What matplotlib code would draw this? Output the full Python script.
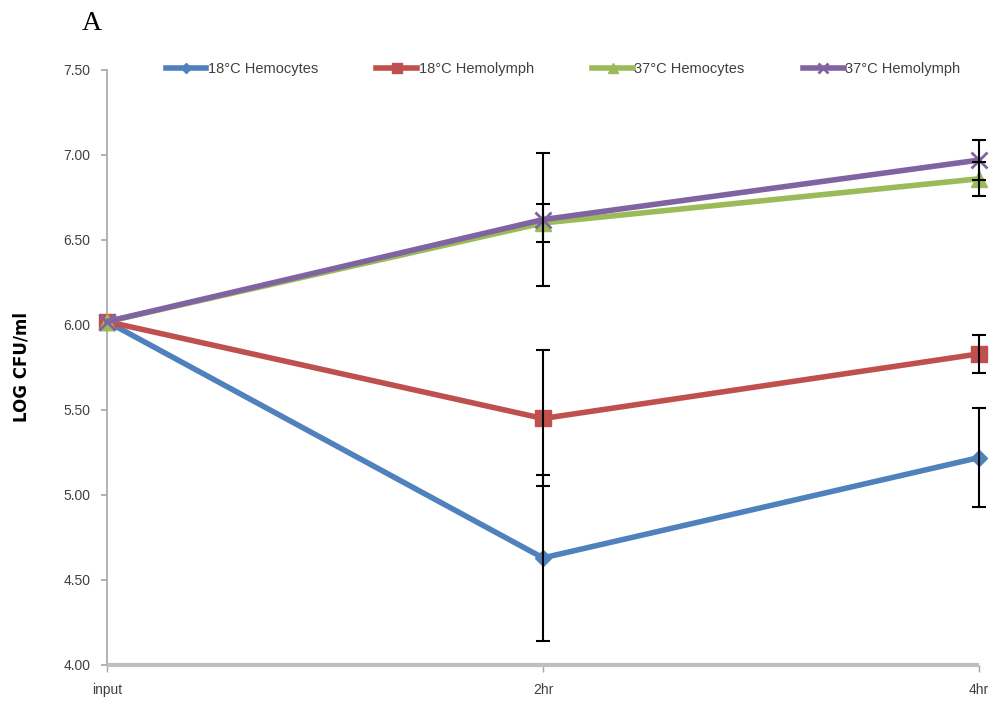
import matplotlib
matplotlib.use("Agg")
import matplotlib.pyplot as plt

plt.rcParams['font.family'] = ['Liberation Sans', 'DejaVu Sans']

# time points and log CFU values with error bars
timepoints = ['input', '2hr', '4hr']
series_names = ['18°C Hemocytes', '18°C Hemolymph', '37°C Hemocytes', '37°C Hemolymph']
hemocytes_18 = [6.02, 4.63, 5.22]
hemocytes_18_err = [0.0, 0.49, 0.29]
hemolymph_18 = [6.02, 5.45, 5.83]
hemolymph_18_err = [0.0, 0.40, 0.11]
hemocytes_37 = [6.02, 6.60, 6.86]
hemocytes_37_err = [0.0, 0.11, 0.10]
hemolymph_37 = [6.02, 6.62, 6.97]
hemolymph_37_err = [0.0, 0.39, 0.12]

values = [hemocytes_18, hemolymph_18, hemocytes_37, hemolymph_37]
errors = [hemocytes_18_err, hemolymph_18_err, hemocytes_37_err, hemolymph_37_err]
colors = ['#4F81BD', '#C0504D', '#9BBB59', '#8064A2']
markers = ['D', 's', '^', 'x']
msizes = [8, 11, 11, 12]

fig = plt.figure(figsize=(10, 7.04), dpi=100)
ax = fig.add_axes([0.107, 0.0554, 0.872, 0.8452])

x = list(range(len(timepoints)))
handles = []
for i in range(4):
    mk = markers[i]
    if mk == 'x':
        h, = ax.plot(x, values[i], color=colors[i], lw=4, marker=mk, ms=msizes[i],
                     mew=2, zorder=3 + i * 0.1, clip_on=False, label=series_names[i])
    else:
        h, = ax.plot(x, values[i], color=colors[i], lw=4, marker=mk, ms=msizes[i],
                     mfc=colors[i], mec=colors[i], zorder=3 + i * 0.1,
                     clip_on=False, label=series_names[i])
    handles.append(h)

for i in range(4):
    xs = [xx for xx, e in zip(x, errors[i]) if e > 0]
    ys = [v for v, e in zip(values[i], errors[i]) if e > 0]
    es = [e for e in errors[i] if e > 0]
    eb = ax.errorbar(xs, ys, yerr=es, fmt='none', ecolor='black', elinewidth=1.5,
                     capsize=5, capthick=1.5, zorder=5)
    for art in eb.lines[1] + eb.lines[2]:
        art.set_clip_on(False)

ax.set_xlim(0, 2)
ax.set_ylim(4.0, 7.5)
ax.set_yticks([4.0, 4.5, 5.0, 5.5, 6.0, 6.5, 7.0, 7.5])
ax.set_yticklabels(['%.2f' % v for v in ax.get_yticks()])
ax.set_xticks(x)
ax.set_xticklabels(timepoints)

for s in ['top', 'right']:
    ax.spines[s].set_visible(False)
ax.spines['left'].set_color('#A6A6A6')
ax.spines['left'].set_linewidth(1.2)
ax.spines['bottom'].set_color('#BFBFBF')
ax.spines['bottom'].set_linewidth(3)
ax.spines['bottom'].set_capstyle('butt')
ax.tick_params(axis='y', colors='#A6A6A6', labelcolor='#404040', labelsize=10,
               length=4, width=1.2, pad=8)
ax.tick_params(axis='x', colors='#A6A6A6', labelcolor='#404040', labelsize=10,
               length=5, width=1, pad=8)
ax.set_ylabel('LOG CFU/ml', fontsize=12, fontweight='bold', family=['DejaVu Sans'])
ax.yaxis.set_label_coords(-0.088, 0.5)

leg = fig.legend(handles=handles, loc='center', ncol=4, bbox_to_anchor=(0.563, 0.902),
                 frameon=False, fontsize=10.5, handlelength=2.8, columnspacing=4.0,
                 handletextpad=0.1, markerscale=0.6)
for t in leg.get_texts():
    t.set_color('#404040')

fig.text(0.092, 0.967, 'A', fontsize=20, family=['Liberation Serif'], ha='center', va='center')

fig.savefig('out.png', dpi=100)
